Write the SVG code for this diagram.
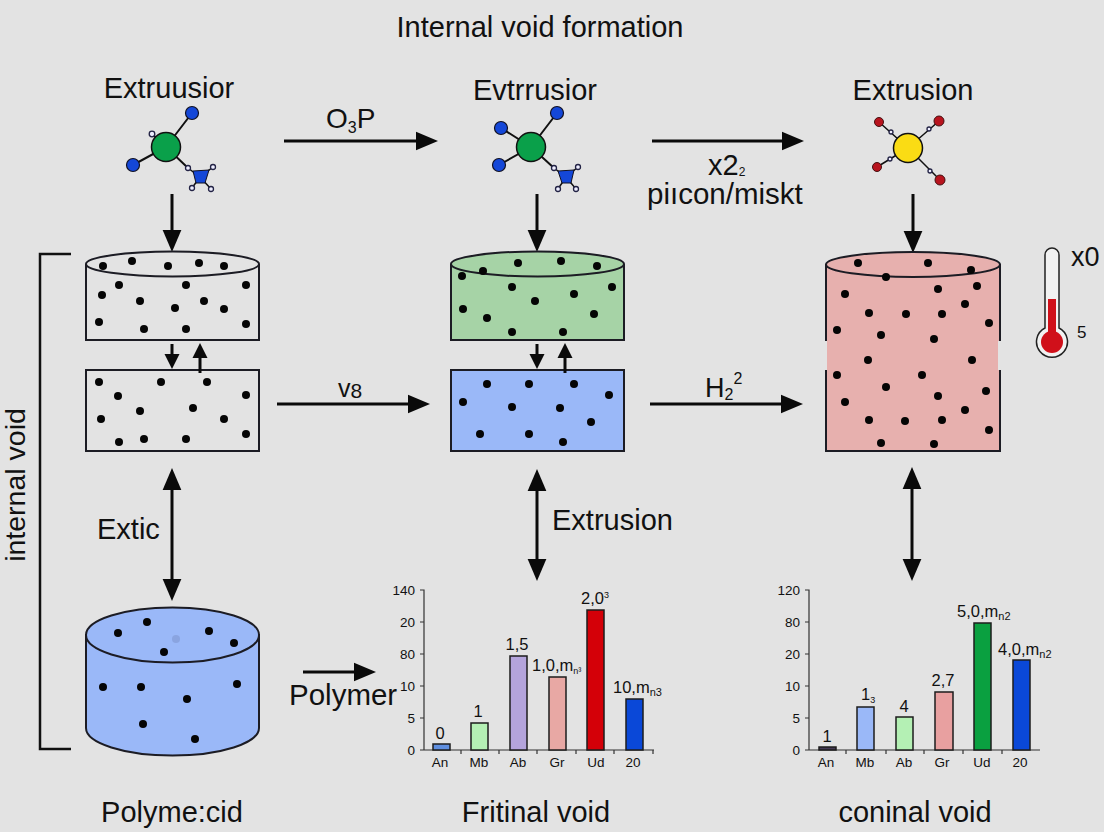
<svg xmlns="http://www.w3.org/2000/svg" width="1104" height="832" viewBox="0 0 1104 832">
<style>
text{font-family:"Liberation Sans",Arial,sans-serif;fill:#111}
.t24{font-size:29px}.m{text-anchor:middle}
.ol{stroke:#1c1c24;stroke-width:2}
.d circle{fill:#050505;stroke:none}
.cn line{stroke:#0a0a0a;stroke-width:3}
.s{font-size:13.500px;fill:#222}.n{font-size:16.500px}
.ax{stroke:#333;stroke-width:1.2;fill:none}
.bar{stroke:#1c1c1c;stroke-width:1.500}
.bond{stroke:#111;stroke-width:2;fill:none}
.thin{stroke:#111;stroke-width:1.500;fill:none}
.o{fill:#eef;stroke:#224;stroke-width:1.300}
.blue{fill:#1447d8;stroke:#112;stroke-width:1.200}
.red{fill:#b8141e;stroke:#411;stroke-width:1}
</style>
<defs>
<marker id="a" markerUnits="userSpaceOnUse" markerWidth="22" markerHeight="22" refX="10" refY="10" orient="auto-start-reverse" viewBox="0 0 20 20"><path d="M0 1.500L20 10L0 18.500Z" fill="#0a0a0a"/></marker>
<marker id="b" markerUnits="userSpaceOnUse" markerWidth="15" markerHeight="16" refX="7" refY="8" orient="auto-start-reverse" viewBox="0 0 15 16"><path d="M0 0.500L15 8L0 15.500Z" fill="#0a0a0a"/></marker>
</defs>
<rect width="1104" height="832" fill="#e3e3e3"/>
<text id="title" x="540" y="37" class="m" style="font-size:29px">Internal void formation</text>

<g id="connectors" class="cn">
<line x1="284" y1="141" x2="427" y2="141" marker-end="url(#a)"/>
<line x1="652" y1="141" x2="793" y2="141" marker-end="url(#a)"/>
<line x1="172" y1="194" x2="172" y2="241" marker-end="url(#a)"/>
<line x1="537" y1="194" x2="537" y2="241" marker-end="url(#a)"/>
<line x1="913" y1="194" x2="913" y2="242" marker-end="url(#a)"/>
<line x1="172" y1="344" x2="172" y2="361" marker-end="url(#b)"/>
<line x1="537" y1="344" x2="537" y2="361" marker-end="url(#b)"/>
<line x1="277" y1="404" x2="419" y2="404" marker-end="url(#a)"/>
<line x1="650" y1="404" x2="792" y2="404" marker-end="url(#a)"/>
<line x1="172" y1="479" x2="172" y2="590" marker-start="url(#a)" marker-end="url(#a)"/>
<line x1="537" y1="480" x2="537" y2="570" marker-start="url(#a)" marker-end="url(#a)"/>
<line x1="912" y1="478" x2="912" y2="570" marker-start="url(#a)" marker-end="url(#a)"/>
<line x1="303" y1="672" x2="365" y2="672" marker-end="url(#a)"/>
</g>

<g id="bracket"><path d="M71 254H40V749H71" fill="none" stroke="#111" stroke-width="2.500"/>
<text x="25" y="485" class="m" transform="rotate(-90 25 485)" style="font-size:28.500px">internal void</text></g>

<g id="mol1">
<text x="169" y="98" class="m t24">Extruusior</text>
<path class="bond" d="M166 147L192 113M166 147L133 165M166 147L152 134M166 147L188 168"/>
<circle cx="166" cy="147" r="14.500" fill="#0aa04a" stroke="#111" stroke-width="1.500"/>
<circle class="blue" cx="192" cy="113" r="6.500"/>
<circle class="blue" cx="133" cy="165" r="6.500"/>
<circle class="o" cx="152" cy="134" r="2.800"/>
<path class="thin" d="M188 168L200 177L213 167M192 188L200 177L211 189"/>
<path d="M193 171L209 170L205 183H196Z" fill="#1447d8" stroke="#112" stroke-width="1"/>
<circle class="o" cx="188" cy="168" r="2.500"/><circle class="o" cx="213" cy="167" r="2.500"/><circle class="o" cx="192" cy="188" r="2.500"/><circle class="o" cx="211" cy="189" r="2.500"/>
</g>

<g id="mol2">
<text x="535" y="100" class="m t24">Evtrrusior</text>
<path class="bond" d="M531 147L557 113M531 147L501 128M531 147L499 165M531 147L554 168"/>
<circle cx="531" cy="147" r="14.500" fill="#0aa04a" stroke="#111" stroke-width="1.500"/>
<circle class="blue" cx="557" cy="113" r="6.500"/>
<circle class="blue" cx="501" cy="128" r="6.500"/>
<circle class="blue" cx="499" cy="165" r="6.500"/>
<path class="thin" d="M554 168L566 177L578 167M558 189L566 177L576 189"/>
<path d="M558 171L574 170L571 183H562Z" fill="#1447d8" stroke="#112" stroke-width="1"/>
<circle class="o" cx="554" cy="168" r="2.500"/><circle class="o" cx="578" cy="167" r="2.500"/><circle class="o" cx="558" cy="189" r="2.500"/><circle class="o" cx="576" cy="189" r="2.500"/>
</g>

<g id="mol3">
<text x="913" y="100" class="m t24">Extrusion</text>
<path class="thin" d="M908 148L879 122M908 148L939 121M908 148L877 167M908 148L940 180"/>
<circle cx="908" cy="148" r="14.500" fill="#fadc14" stroke="#111" stroke-width="1.500"/>
<circle class="red" cx="879" cy="122" r="4.500"/>
<circle class="red" cx="939" cy="121" r="5"/>
<circle class="red" cx="877" cy="167" r="4.500"/>
<circle class="red" cx="940" cy="180" r="5"/>
<circle class="o" cx="891" cy="132" r="2"/><circle class="o" cx="929" cy="129" r="2"/><circle class="o" cx="890" cy="159" r="2"/><circle class="o" cx="930" cy="171" r="2"/>
</g>

<g id="labels">
<text x="326" y="128" style="font-size:28px">O<tspan font-size="16" dy="5">3</tspan><tspan dy="-5">P</tspan></text>
<text x="708" y="175" class="t24">x2<tspan font-size="12" dy="1">2</tspan></text>
<text x="647" y="204" style="font-size:29.500px">piıcon/miskt</text>
<text x="338" y="397" style="font-size:25px">v<tspan font-size="21" dy="1">8</tspan></text>
<text x="705" y="397" style="font-size:27px">H<tspan font-size="16" dy="3">2</tspan><tspan font-size="16" dy="-16">2</tspan></text>
<text x="97" y="539" class="t24">Extic</text>
<text x="552" y="530" class="t24">Extrusion</text>
<text x="289" y="705" style="font-size:29.500px">Polymer</text>
<text x="172" y="822" class="m t24">Polyme:cid</text>
<text x="536" y="822" class="m t24">Fritinal void</text>
<text x="915" y="822" class="m t24">coninal void</text>
</g>

<g id="cyl-white">
<path class="ol" fill="#e3e3e3" d="M86 264V340H259V264"/>
<ellipse class="ol" cx="172.500" cy="264" rx="86.500" ry="12.500" fill="#e3e3e3"/>
<g class="d"><circle cx="103" cy="266" r="4"/><circle cx="132" cy="261" r="4"/><circle cx="168" cy="266" r="4"/><circle cx="199" cy="263" r="4"/><circle cx="224" cy="266" r="4"/><circle cx="119" cy="285" r="4"/><circle cx="186" cy="285" r="4"/><circle cx="246" cy="285" r="4"/><circle cx="102" cy="295" r="4"/><circle cx="140" cy="301" r="4"/><circle cx="204" cy="301" r="4"/><circle cx="175" cy="308" r="4"/><circle cx="224" cy="309" r="4"/><circle cx="99" cy="322" r="4"/><circle cx="144" cy="329" r="4"/><circle cx="186" cy="329" r="4"/><circle cx="246" cy="324" r="4"/></g>
</g>
<g id="box-white">
<rect class="ol" x="86" y="370" width="173" height="81" fill="#e3e3e3"/>
<g class="d"><circle cx="99" cy="382" r="4"/><circle cx="161" cy="382" r="4"/><circle cx="207" cy="382" r="4"/><circle cx="118" cy="396" r="4"/><circle cx="246" cy="395" r="4"/><circle cx="193" cy="408" r="4"/><circle cx="140" cy="411" r="4"/><circle cx="101" cy="419" r="4"/><circle cx="224" cy="419" r="4"/><circle cx="246" cy="434" r="4"/><circle cx="144" cy="439" r="4"/><circle cx="119" cy="442" r="4"/><circle cx="186" cy="439" r="4"/></g>
</g>

<g id="cyl-green">
<path class="ol" fill="#a6d3a6" d="M451 264V340H624V264"/>
<ellipse class="ol" cx="537.500" cy="264" rx="86.500" ry="12.500" fill="#a6d3a6"/>
<g class="d"><circle cx="483" cy="271" r="4"/><circle cx="462" cy="276" r="4"/><circle cx="518" cy="263" r="4"/><circle cx="561" cy="261" r="4"/><circle cx="597" cy="266" r="4"/><circle cx="512" cy="287" r="4"/><circle cx="612" cy="287" r="4"/><circle cx="574" cy="294" r="4"/><circle cx="535" cy="301" r="4"/><circle cx="463" cy="309" r="4"/><circle cx="487" cy="318" r="4"/><circle cx="594" cy="314" r="4"/><circle cx="512" cy="332" r="4"/><circle cx="563" cy="332" r="4"/></g>
</g>
<g id="box-blue">
<rect class="ol" x="451" y="370" width="173" height="81" fill="#9ab8f8"/>
<g class="d"><circle cx="487" cy="384" r="4"/><circle cx="529" cy="384" r="4"/><circle cx="574" cy="384" r="4"/><circle cx="609" cy="395" r="4"/><circle cx="463" cy="402" r="4"/><circle cx="512" cy="407" r="4"/><circle cx="560" cy="408" r="4"/><circle cx="591" cy="422" r="4"/><circle cx="480" cy="434" r="4"/><circle cx="529" cy="434" r="4"/><circle cx="563" cy="442" r="4"/></g>
</g>
<g id="connectors-up" class="cn">
<line x1="200" y1="373" x2="200" y2="351" marker-end="url(#b)"/>
<line x1="565" y1="373" x2="565" y2="351" marker-end="url(#b)"/>
</g>

<g id="cyl-red">
<path fill="#e7b0ae" d="M826 264H1000V341H998V370H1000V451H826V370H827V341H826Z"/>
<path fill="none" class="ol" d="M826 341V264M1000 264V341M826 370V451H1000V370"/>
<ellipse class="ol" cx="913" cy="264.500" rx="87" ry="12.500" fill="#e7b0ae"/>
<g class="d"><circle cx="858" cy="263" r="4"/><circle cx="928" cy="263" r="4"/><circle cx="971" cy="270" r="4"/><circle cx="886" cy="277" r="4"/><circle cx="938" cy="289" r="4"/><circle cx="977" cy="286" r="4"/><circle cx="845" cy="294" r="4"/><circle cx="965" cy="304" r="4"/><circle cx="869" cy="313" r="4"/><circle cx="906" cy="314" r="4"/><circle cx="942" cy="314" r="4"/><circle cx="989" cy="323" r="4"/><circle cx="837" cy="330" r="4"/><circle cx="881" cy="335" r="4"/><circle cx="934" cy="339" r="4"/><circle cx="868" cy="360" r="4"/><circle cx="972" cy="360" r="4"/><circle cx="837" cy="375" r="4"/><circle cx="922" cy="375" r="4"/><circle cx="886" cy="387" r="4"/><circle cx="938" cy="396" r="4"/><circle cx="986" cy="391" r="4"/><circle cx="845" cy="402" r="4"/><circle cx="965" cy="410" r="4"/><circle cx="869" cy="420" r="4"/><circle cx="905" cy="421" r="4"/><circle cx="942" cy="420" r="4"/><circle cx="989" cy="430" r="4"/><circle cx="881" cy="443" r="4"/><circle cx="934" cy="444" r="4"/></g>
</g>

<g id="thermometer">
<path d="M1045 255a7 7 0 0 1 14 0V328a15.500 15.500 0 1 1 -14 0Z" fill="#f2f2f2" stroke="#222" stroke-width="1.500"/>
<rect x="1048" y="299" width="8" height="35" fill="#d0101a"/>
<circle cx="1052" cy="342" r="11" fill="#d0101a"/>
<text x="1071" y="266" style="font-size:27px">x0</text>
<text x="1077" y="338" style="font-size:17px">5</text>
</g>

<g id="cyl-blue">
<path class="ol" fill="#9ab8f8" d="M86 635V728A86.500 27.500 0 0 0 259 728V635Z"/>
<ellipse class="ol" cx="172.500" cy="635" rx="86.500" ry="27.500" fill="#9ab8f8"/>
<circle cx="176" cy="639" r="4" fill="#8aa4e0"/>
<g class="d"><circle cx="118" cy="633" r="4"/><circle cx="147" cy="622" r="4"/><circle cx="209" cy="631" r="4"/><circle cx="234" cy="643" r="4"/><circle cx="164" cy="652" r="4"/><circle cx="103" cy="687" r="4"/><circle cx="141" cy="687" r="4"/><circle cx="237" cy="684" r="4"/><circle cx="187" cy="699" r="4"/><circle cx="143" cy="724" r="4"/><circle cx="195" cy="739" r="4"/></g>
</g>

<g id="chart1">
<path class="ax" d="M420 590H424V750M420 622H424M420 654H424M420 686H424M420 718H424M420 750H654M461 750v4M499 750v4M537 750v4M576 750v4M614 750v4M653 750v4"/>
<rect class="bar" x="433" y="744" width="17" height="6" fill="#5f8fe0"/>
<rect class="bar" x="471" y="723" width="17" height="27" fill="#b4f0b4"/>
<rect class="bar" x="510" y="656" width="17" height="94" fill="#b4a4dc"/>
<rect class="bar" x="549" y="677" width="17" height="73" fill="#e8a8a4"/>
<rect class="bar" x="587" y="610" width="17" height="140" fill="#d40008"/>
<rect class="bar" x="626" y="699" width="17" height="51" fill="#0a48d8"/>
<g class="s" text-anchor="end"><text x="415" y="595">140</text><text x="415" y="627">20</text><text x="415" y="659">80</text><text x="415" y="691">10</text><text x="415" y="723">5</text><text x="415" y="755">0</text></g>
<g class="s" text-anchor="middle"><text x="440" y="767">An</text><text x="479" y="767">Mb</text><text x="518" y="767">Ab</text><text x="557" y="767">Gr</text><text x="596" y="767">Ud</text><text x="633" y="767">20</text></g>
<g class="n"><text x="440" y="739" class="m">0</text><text x="478" y="717" class="m">1</text><text x="517" y="650" class="m">1,5</text>
<text x="532" y="671">1,0,m<tspan font-size="9" dy="3">n³</tspan></text>
<text x="581" y="604">2,0<tspan font-size="9" dy="-6">3</tspan></text>
<text x="613" y="693">10,m<tspan font-size="11" dy="3">n3</tspan></text></g>
</g>

<g id="chart2">
<path class="ax" d="M805 590H809V750M805 622H809M805 654H809M805 686H809M805 718H809M805 750H1040M846 750v4M886 750v4M924 750v4M963 750v4M1002 750v4"/>
<rect class="bar" x="819" y="747" width="17" height="3" fill="#443a55"/>
<rect class="bar" x="857" y="707" width="17" height="43" fill="#9ab8f8"/>
<rect class="bar" x="896" y="717" width="17" height="33" fill="#b4f0b4"/>
<rect class="bar" x="935" y="692" width="18" height="58" fill="#e8a0a0"/>
<rect class="bar" x="974" y="623" width="17" height="127" fill="#0aa040"/>
<rect class="bar" x="1013" y="660" width="17" height="90" fill="#0a48d8"/>
<g class="s" text-anchor="end"><text x="800" y="595">120</text><text x="800" y="627">80</text><text x="800" y="659">20</text><text x="800" y="691">10</text><text x="800" y="723">5</text><text x="800" y="755">0</text></g>
<g class="s" text-anchor="middle"><text x="826" y="767">An</text><text x="865" y="767">Mb</text><text x="904" y="767">Ab</text><text x="942" y="767">Gr</text><text x="982" y="767">Ud</text><text x="1020" y="767">20</text></g>
<g class="n"><text x="827" y="742" class="m">1</text><text x="861" y="700">1<tspan font-size="9" dy="3">3</tspan></text><text x="904" y="712" class="m">4</text><text x="943" y="686" class="m">2,7</text>
<text x="957" y="617">5,0,m<tspan font-size="11" dy="3">n2</tspan></text>
<text x="998" y="655">4,0,m<tspan font-size="11" dy="3">n2</tspan></text></g>
</g>
</svg>
